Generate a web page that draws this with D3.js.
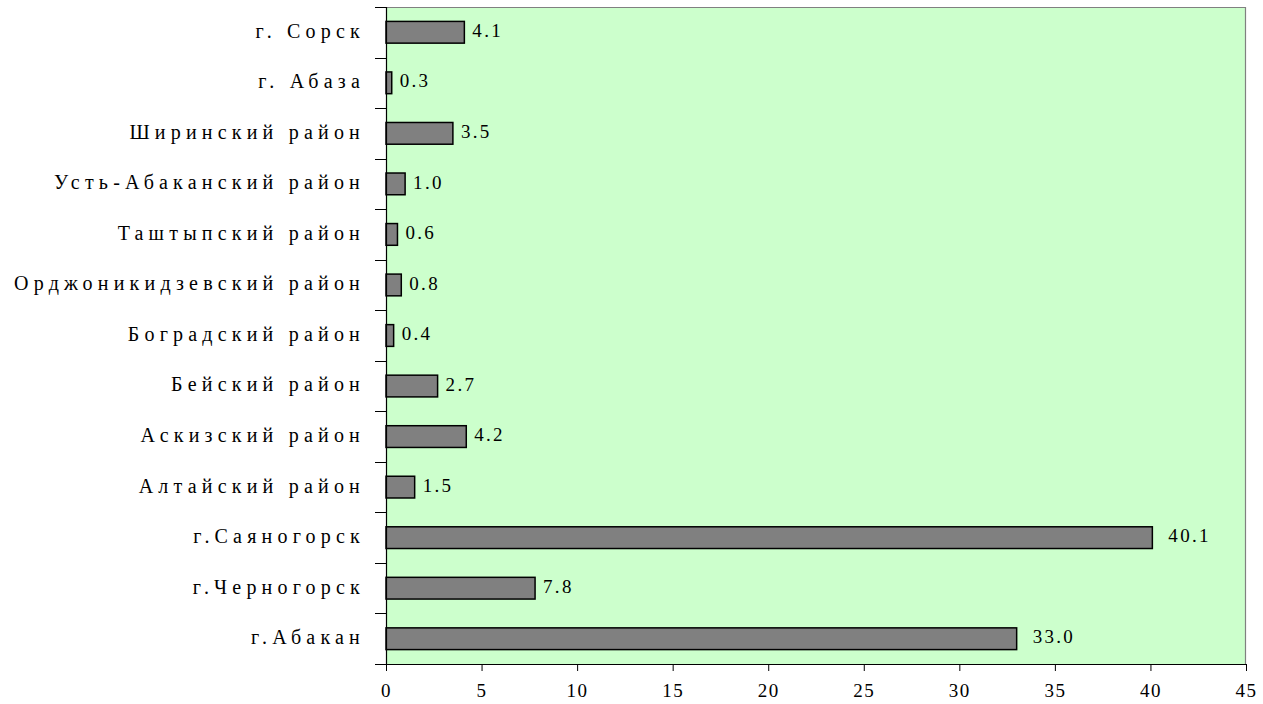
<!DOCTYPE html>
<html>
<head>
<meta charset="utf-8">
<script src="https://cdn.jsdelivr.net/npm/d3@7"></script>
<style>
  html, body { margin: 0; padding: 0; background: #ffffff; }
  svg { display: block; }
</style>
</head>
<body>
<svg id="chart" width="1263" height="704"></svg>
<script>
// Categories listed from top to bottom of the chart
const categories = [
  "г. Сорск",
  "г. Абаза",
  "Ширинский район",
  "Усть-Абаканский район",
  "Таштыпский район",
  "Орджоникидзевский район",
  "Боградский район",
  "Бейский район",
  "Аскизский район",
  "Алтайский район",
  "г.Саяногорск",
  "г.Черногорск",
  "г.Абакан"
];
const values = [4.1, 0.3, 3.5, 1.0, 0.6, 0.8, 0.4, 2.7, 4.2, 1.5, 40.1, 7.8, 33.0];
const xTicks = [0, 5, 10, 15, 20, 25, 30, 35, 40, 45];

const FONT = "Liberation Serif";
const data = categories.map((c, i) => ({ name: c, value: values[i] }));

const svg = d3.select("#chart");
const plot = { left: 386, right: 1246, top: 7, bottom: 664 };

const x = d3.scaleLinear().domain([0, 45]).range([plot.left, plot.right]);
const y = d3.scaleBand().domain(categories).range([plot.top, plot.bottom]).paddingInner(0.57).paddingOuter(0.285);
const band = d3.scaleBand().domain(categories).range([plot.top, plot.bottom]);

// Plot area background and frame
svg.append("rect")
  .attr("x", plot.left).attr("y", plot.top)
  .attr("width", plot.right - plot.left).attr("height", plot.bottom - plot.top)
  .attr("fill", "#ccffcc");
svg.append("path")
  .attr("d", `M${plot.left},${plot.top + 0.5}H${plot.right - 0.5}V${plot.bottom}`)
  .attr("fill", "none").attr("stroke", "#808080").attr("stroke-width", 1.2);

// Bars
svg.append("g").selectAll("rect").data(data).join("rect")
  .attr("x", x(0))
  .attr("y", d => y(d.name))
  .attr("width", d => x(d.value) - x(0))
  .attr("height", y.bandwidth())
  .attr("fill", "#808080")
  .attr("stroke", "#000")
  .attr("stroke-width", 1.5);

// Value labels: longer labels sit a little further from the bar end
svg.append("g").selectAll("text").data(data).join("text")
  .attr("x", d => x(d.value) + 8 + (d.value.toFixed(1).length - 3) * 8)
  .attr("y", d => y(d.name) + y.bandwidth() / 2 - 2)
  .attr("dy", "0.35em")
  .attr("fill", "#000")
  .attr("font-family", FONT)
  .attr("font-size", 19)
  .attr("letter-spacing", 2.3)
  .text(d => d.value.toFixed(1));

// Left axis: line, tick marks between categories, category labels
const boundaries = categories.map(c => band(c)).concat([plot.bottom]);
svg.append("line")
  .attr("x1", plot.left + 0.5).attr("x2", plot.left + 0.5)
  .attr("y1", plot.top).attr("y2", plot.bottom)
  .attr("stroke", "#000").attr("stroke-width", 1.2);
svg.append("g").selectAll("line").data(boundaries).join("line")
  .attr("x1", plot.left - 11).attr("x2", plot.left)
  .attr("y1", d => Math.round(d) + 0.5).attr("y2", d => Math.round(d) + 0.5)
  .attr("stroke", "#000").attr("stroke-width", 1);
svg.append("g").selectAll("text").data(categories).join("text")
  .attr("x", 365)
  .attr("y", d => band(d) + band.bandwidth() / 2)
  .attr("dy", "0.27em")
  .attr("text-anchor", "end")
  .attr("fill", "#000")
  .attr("font-family", FONT)
  .attr("font-size", 20)
  .attr("letter-spacing", 5.2)
  .text(d => d);

// Bottom axis
const xAxis = d3.axisBottom(x).tickValues(xTicks).tickSize(7).tickPadding(13).tickFormat(d3.format("d"));
const gx = svg.append("g").attr("transform", `translate(0,${plot.bottom})`).call(xAxis);
gx.attr("font-family", FONT).attr("font-size", 19);
gx.select(".domain").attr("stroke", "#000").attr("stroke-width", 1.2).attr("d", `M${plot.left},0.5H${plot.right}`);
gx.selectAll(".tick line").attr("stroke", "#000");
gx.selectAll(".tick text")
  .attr("fill", "#000")
  .attr("letter-spacing", 1.5);
</script>
</body>
</html>
